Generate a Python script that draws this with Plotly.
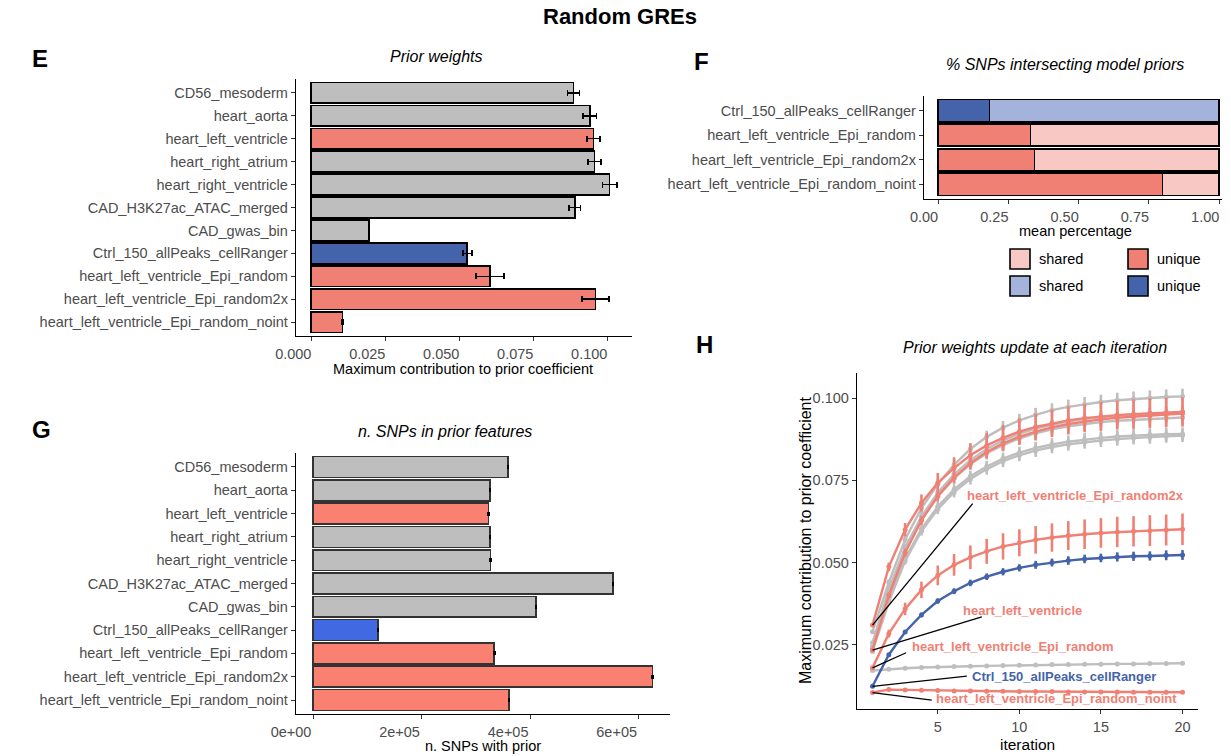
import plotly.graph_objects as go

W, H = 1231, 756
FONT = "Liberation Sans, Arial, sans-serif"

# ---------------- data ----------------
features = [
    "CD56_mesoderm", "heart_aorta", "heart_left_ventricle", "heart_right_atrium",
    "heart_right_ventricle", "CAD_H3K27ac_ATAC_merged", "CAD_gwas_bin",
    "Ctrl_150_allPeaks_cellRanger", "heart_left_ventricle_Epi_random",
    "heart_left_ventricle_Epi_random2x", "heart_left_ventricle_Epi_random_noint",
]
feature_group = ["other", "other", "random", "other", "other", "other", "other",
                 "ctrl", "random", "random", "random"]

# E: maximum contribution to prior coefficient (mean, sd)
max_contrib = [0.0886, 0.0941, 0.0953, 0.0957, 0.1008, 0.0890, 0.0195,
               0.0527, 0.0604, 0.0960, 0.0106]
max_contrib_sd = [0.0020, 0.0023, 0.0022, 0.0022, 0.0024, 0.0019, 0.0001,
                  0.0015, 0.0048, 0.0045, 0.0003]

# G: number of SNPs with prior
n_snps = [359500, 326000, 323000, 326500, 327000, 553000, 411000,
          120000, 334000, 625500, 361000]
n_snps_sd = [900, 700, 700, 800, 700, 900, 800, 600, 1200, 1500, 1100]

# F: share of SNPs intersecting model priors
f_features = ["Ctrl_150_allPeaks_cellRanger", "heart_left_ventricle_Epi_random",
              "heart_left_ventricle_Epi_random2x", "heart_left_ventricle_Epi_random_noint"]
f_group = ["ctrl", "random", "random", "random"]
unique_frac = [0.183, 0.329, 0.343, 0.798]
shared_frac = [0.817, 0.671, 0.657, 0.202]

# H: prior weights at each iteration
iterations = list(range(1, 21))
traj_CD56_mesoderm = [0.0230, 0.0380, 0.0505, 0.0595, 0.0662, 0.0714, 0.0754, 0.0784, 0.0808, 0.0826,
                      0.0840, 0.0851, 0.0859, 0.0866, 0.0871, 0.0875, 0.0879, 0.0881, 0.0884, 0.0886]
traj_heart_aorta = [0.0245, 0.0410, 0.0535, 0.0630, 0.0701, 0.0756, 0.0799, 0.0832, 0.0857, 0.0877,
                    0.0893, 0.0905, 0.0914, 0.0921, 0.0927, 0.0931, 0.0934, 0.0937, 0.0939, 0.0941]
traj_heart_left_ventricle = [0.0234, 0.0400, 0.0530, 0.0628, 0.0702, 0.0758, 0.0802, 0.0836, 0.0862, 0.0882,
                             0.0898, 0.0911, 0.0921, 0.0929, 0.0935, 0.0940, 0.0944, 0.0947, 0.0950, 0.0953]
traj_heart_right_atrium = [0.0256, 0.0420, 0.0545, 0.0640, 0.0712, 0.0768, 0.0811, 0.0845, 0.0871, 0.0891,
                           0.0907, 0.0919, 0.0929, 0.0936, 0.0942, 0.0947, 0.0950, 0.0953, 0.0955, 0.0957]
traj_heart_right_ventricle = [0.0290, 0.0440, 0.0570, 0.0665, 0.0738, 0.0797, 0.0845, 0.0882, 0.0910, 0.0932,
                              0.0949, 0.0963, 0.0973, 0.0981, 0.0988, 0.0993, 0.0997, 0.1000, 0.1003, 0.1005]
traj_CAD_H3K27ac = [0.0238, 0.0388, 0.0512, 0.0602, 0.0670, 0.0722, 0.0762, 0.0792, 0.0816, 0.0834,
                    0.0848, 0.0859, 0.0867, 0.0874, 0.0879, 0.0883, 0.0886, 0.0888, 0.0890, 0.0891]
traj_CAD_gwas_bin = [0.0172, 0.0176, 0.0179, 0.0181, 0.0183, 0.0184, 0.0185, 0.0186, 0.0187, 0.0188,
                     0.0189, 0.0190, 0.0190, 0.0191, 0.0191, 0.0192, 0.0192, 0.0193, 0.0193, 0.0194]
traj_Ctrl = [0.0124, 0.0220, 0.0289, 0.0341, 0.0383, 0.0413, 0.0438, 0.0457, 0.0472, 0.0484,
             0.0493, 0.0500, 0.0506, 0.0511, 0.0514, 0.0517, 0.0519, 0.0520, 0.0522, 0.0523]
traj_Epi_random = [0.0180, 0.0284, 0.0359, 0.0417, 0.0461, 0.0493, 0.0516, 0.0534, 0.0549, 0.0560,
                   0.0569, 0.0576, 0.0582, 0.0586, 0.0590, 0.0593, 0.0595, 0.0597, 0.0599, 0.0601]
traj_Epi_random2x = [0.0310, 0.0487, 0.0600, 0.0681, 0.0742, 0.0787, 0.0826, 0.0856, 0.0879, 0.0898,
                     0.0912, 0.0923, 0.0932, 0.0939, 0.0944, 0.0948, 0.0951, 0.0954, 0.0956, 0.0958]
traj_Epi_random_noint = [0.0105, 0.0114, 0.0113, 0.0112, 0.0111, 0.0110, 0.0110, 0.0109, 0.0109, 0.0108,
                         0.0108, 0.0108, 0.0107, 0.0107, 0.0107, 0.0107, 0.0106, 0.0106, 0.0106, 0.0106]

sd_gray_a = [0.0005, 0.0009, 0.0012, 0.0014, 0.0016, 0.0017, 0.0018, 0.0019, 0.0020, 0.0020,
             0.0021, 0.0021, 0.0022, 0.0022, 0.0022, 0.0023, 0.0023, 0.0023, 0.0023, 0.0023]
sd_gray_b = [0.0004, 0.0008, 0.0011, 0.0013, 0.0015, 0.0016, 0.0017, 0.0017, 0.0018, 0.0018,
             0.0019, 0.0019, 0.0019, 0.0020, 0.0020, 0.0020, 0.0020, 0.0020, 0.0020, 0.0020]
sd_gwas = [0.0001] * 20
sd_ctrl = [0.0002, 0.0005, 0.0006, 0.0007, 0.0008, 0.0009, 0.0010, 0.0010, 0.0011, 0.0011,
           0.0012, 0.0012, 0.0013, 0.0013, 0.0013, 0.0014, 0.0014, 0.0014, 0.0015, 0.0015]
sd_epi_random = [0.0004, 0.0012, 0.0019, 0.0025, 0.0030, 0.0033, 0.0036, 0.0038, 0.0040, 0.0041,
                 0.0042, 0.0043, 0.0044, 0.0045, 0.0045, 0.0046, 0.0046, 0.0047, 0.0047, 0.0048]
sd_epi_random2x = [0.0006, 0.0013, 0.0020, 0.0026, 0.0030, 0.0033, 0.0036, 0.0038, 0.0039, 0.0040,
                   0.0041, 0.0042, 0.0043, 0.0043, 0.0044, 0.0044, 0.0045, 0.0045, 0.0045, 0.0045]
sd_noint = [0.0002] * 20

# ---------------- styling ----------------
GRAY = "#BEBEBE"
RED = "#F08074"
BLUE = "#4463AA"
RED_LIGHT = "#F8C9C4"
BLUE_LIGHT = "#A3B3DC"
G_RED = "#FA8072"
G_BLUE = "#4169E1"
TICK_COL = "#4D4D4D"

col_E = {"other": GRAY, "random": RED, "ctrl": BLUE}
col_G = {"other": GRAY, "random": G_RED, "ctrl": G_BLUE}


def px(x):
    return x / W


def py(y):
    return 1 - y / H


fig = go.Figure()

# ---- E: prior weights ----
fig.add_trace(go.Bar(
    x=max_contrib, y=features, orientation="h", width=0.9,
    marker=dict(color=[col_E[g] for g in feature_group], line=dict(color="black", width=1.6)),
    error_x=dict(type="data", array=max_contrib_sd, color="black", thickness=1.6, width=3),
    xaxis="x", yaxis="y", showlegend=False, hoverinfo="x+y",
))

# ---- F: % SNPs intersecting model priors ----
fig.add_trace(go.Bar(
    x=unique_frac, y=f_features, orientation="h", width=0.9,
    marker=dict(color=[BLUE if g == "ctrl" else RED for g in f_group],
                line=dict(color="black", width=1.6)),
    xaxis="x2", yaxis="y2", showlegend=False, name="unique",
))
fig.add_trace(go.Bar(
    x=shared_frac, y=f_features, orientation="h", width=0.9,
    marker=dict(color=[BLUE_LIGHT if g == "ctrl" else RED_LIGHT for g in f_group],
                line=dict(color="black", width=1.6)),
    xaxis="x2", yaxis="y2", showlegend=False, name="shared",
))

# ---- G: n. SNPs in prior features ----
fig.add_trace(go.Bar(
    x=n_snps, y=features, orientation="h", width=0.9,
    marker=dict(color=[col_G[g] for g in feature_group], line=dict(color="#333333", width=1.6)),
    error_x=dict(type="data", array=n_snps_sd, color="black", thickness=1.6, width=2),
    xaxis="x3", yaxis="y3", showlegend=False,
))

# ---- H: prior weights across iterations ----
h_series = [
    ("CD56_mesoderm", traj_CD56_mesoderm, sd_gray_b, GRAY),
    ("heart_aorta", traj_heart_aorta, sd_gray_a, GRAY),
    ("heart_right_atrium", traj_heart_right_atrium, sd_gray_a, GRAY),
    ("heart_right_ventricle", traj_heart_right_ventricle, sd_gray_a, GRAY),
    ("CAD_H3K27ac_ATAC_merged", traj_CAD_H3K27ac, sd_gray_b, GRAY),
    ("CAD_gwas_bin", traj_CAD_gwas_bin, sd_gwas, GRAY),
    ("heart_left_ventricle", traj_heart_left_ventricle, sd_gray_a, RED),
    ("heart_left_ventricle_Epi_random", traj_Epi_random, sd_epi_random, RED),
    ("heart_left_ventricle_Epi_random2x", traj_Epi_random2x, sd_epi_random2x, RED),
    ("heart_left_ventricle_Epi_random_noint", traj_Epi_random_noint, sd_noint, RED),
    ("Ctrl_150_allPeaks_cellRanger", traj_Ctrl, sd_ctrl, BLUE),
]
for name, ys, sd, col in h_series:
    fig.add_trace(go.Scatter(
        x=iterations, y=ys, mode="lines+markers", name=name,
        line=dict(color=col, width=2.4), marker=dict(color=col, size=5),
        error_y=dict(type="data", array=sd, color=col, thickness=2.6, width=0),
        xaxis="x4", yaxis="y4", showlegend=False,
    ))

# ---------------- axes ----------------
axis_common = dict(
    showgrid=False, zeroline=False, showline=True, linecolor="black", linewidth=1.4,
    ticks="outside", ticklen=4, tickwidth=1.2, tickcolor="#333333", automargin=False,
    tickfont=dict(family=FONT, size=14.5, color=TICK_COL),
)

fig.update_layout(
    xaxis=dict(axis_common, domain=[px(296), px(632)], anchor="y",
               range=[-0.00516, 0.10836], tickvals=[0, 0.025, 0.05, 0.075, 0.1],
               ticktext=["0.000", "0.025", "0.050", "0.075", "0.100"], ticklabelshift=-18),
    yaxis=dict(axis_common, domain=[py(336), py(79)], anchor="x", type="category",
               categoryorder="array", categoryarray=features, range=[10.6, -0.6]),
    xaxis2=dict(axis_common, domain=[px(924), px(1222)], anchor="y2",
                range=[-0.05, 1.01], tickvals=[0, 0.25, 0.5, 0.75, 1.0],
                ticktext=["0.00", "0.25", "0.50", "0.75", "1.00"], ticklabelshift=-14),
    yaxis2=dict(axis_common, domain=[py(199), py(96)], anchor="x2", type="category",
                categoryorder="array", categoryarray=f_features, range=[3.6, -0.6]),
    xaxis3=dict(axis_common, domain=[px(296), px(670)], anchor="y3",
                range=[-31320, 657720], tickvals=[0, 200000, 400000, 600000],
                ticktext=["0e+00", "2e+05", "4e+05", "6e+05"], ticklabelshift=-22),
    yaxis3=dict(axis_common, domain=[py(714), py(453)], anchor="x3", type="category",
                categoryorder="array", categoryarray=features, range=[10.6, -0.6]),
    xaxis4=dict(axis_common, domain=[px(857), px(1198)], anchor="y4",
                range=[0.05, 20.95], tickvals=[5, 10, 15, 20]),
    yaxis4=dict(axis_common, domain=[py(709), py(373)], anchor="x4",
                range=[0.0055, 0.1076], tickvals=[0.025, 0.05, 0.075, 0.1],
                ticktext=["0.025", "0.050", "0.075", "0.100"]),
)

# ---------------- text ----------------
ann = []


def text(x, y, s, size=14, bold=False, italic=False, color="black", anchor="center", angle=0):
    if bold:
        s = "<b>" + s + "</b>"
    if italic:
        s = "<i>" + s + "</i>"
    ann.append(dict(x=px(x), y=py(y), xref="paper", yref="paper", text=s, showarrow=False,
                    xanchor=anchor, yanchor="middle", textangle=angle,
                    font=dict(family=FONT, size=size, color=color)))


text(620, 17, "Random GREs", size=22, bold=True)
text(40, 59, "E", size=24, bold=True)
text(702, 62, "F", size=24, bold=True)
text(41, 429, "G", size=24, bold=True)
text(704, 345, "H", size=24, bold=True)

text(436, 56, "Prior weights", size=16, italic=True)
text(1065, 65, "% SNPs intersecting model priors", size=16, italic=True)
text(445, 431, "n. SNPs in prior features", size=16, italic=True)
text(1035, 347, "Prior weights update at each iteration", size=16, italic=True)

text(463, 369, "Maximum contribution to prior coefficient", size=14.5)
text(1075, 231, "mean percentage", size=14.5)
text(483, 746, "n. SNPs with prior", size=14.5)
text(1027, 744, "iteration", size=15.5)
text(805, 541, "Maximum contribution to prior coefficient", size=16, angle=-90)

# F legend (fill / group key)
legend_items = [
    (1020, 259, RED_LIGHT, "shared"), (1138, 259, RED, "unique"),
    (1020, 286, BLUE_LIGHT, "shared"), (1138, 286, BLUE, "unique"),
]
shapes = []
for cx, cy, col, lab in legend_items:
    shapes.append(dict(type="rect", xref="paper", yref="paper",
                       x0=px(cx - 10), x1=px(cx + 10), y0=py(cy + 10), y1=py(cy - 10),
                       fillcolor=col, line=dict(color="black", width=1.6)))
    text(cx + 17, cy, lab, size=14.5, anchor="left")

# H direct labels with leader lines from the first iteration
h_labels = [
    ("heart_left_ventricle_Epi_random2x", traj_Epi_random2x, RED, 6.65, 0.0704, 7.14, 0.0679),
    ("heart_left_ventricle", traj_heart_left_ventricle, RED, 6.4, 0.0355, 7.7, 0.0335),
    ("heart_left_ventricle_Epi_random", traj_Epi_random, RED, 3.27, 0.0246, 3.06, 0.0226),
    ("Ctrl_150_allPeaks_cellRanger", traj_Ctrl, BLUE, 6.98, 0.0155, 6.78, 0.0155),
    ("heart_left_ventricle_Epi_random_noint", traj_Epi_random_noint, RED, 4.78, 0.0086, 4.63, 0.0082),
]
for lab, ys, col, tx, ty, lx, ly in h_labels:
    shapes.append(dict(type="line", xref="x4", yref="y4", x0=iterations[0], y0=ys[0],
                       x1=lx, y1=ly, line=dict(color="black", width=1.3)))
    ann.append(dict(x=tx, y=ty, xref="x4", yref="y4", text="<b>" + lab + "</b>",
                    showarrow=False, xanchor="left", yanchor="middle",
                    font=dict(family=FONT, size=13, color=col)))

fig.update_layout(
    width=W, height=H, margin=dict(l=0, r=0, t=0, b=0, pad=0),
    paper_bgcolor="white", plot_bgcolor="white",
    barmode="stack", bargap=0.1,
    font=dict(family=FONT, size=14, color="black"),
    annotations=ann, shapes=shapes, showlegend=False,
)

fig.write_html("out.html")
